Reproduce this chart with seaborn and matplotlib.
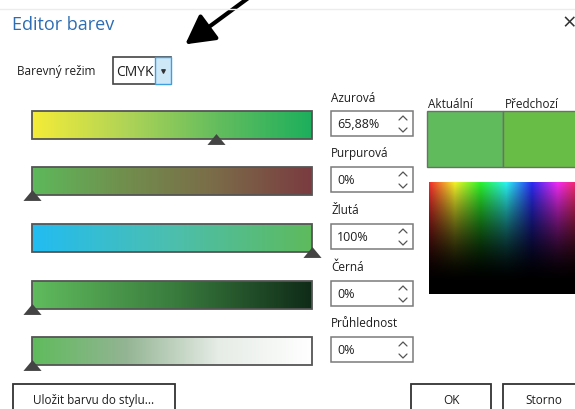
import numpy as np
import matplotlib
matplotlib.use("Agg")
import matplotlib.pyplot as plt
from matplotlib.patches import Rectangle, FancyArrowPatch
from matplotlib.colors import hsv_to_rgb
import seaborn as sns

# dialog content
title = "Editor barev"
mode_label = "Barevný režim"
mode_value = "CMYK"
channels = ["Azurová", "Purpurová", "Žlutá", "Černá", "Průhlednost"]
values = [65.88, 0, 100, 0, 0]
value_labels = ["65,88%", "0%", "100%", "0%", "0%"]
gradients = [
    ["#f5ec38", "#b0d456", "#63bd5e", "#1daf5c"],
    ["#5db95b", "#718e4d", "#7b6a48", "#7a3b40"],
    ["#22bcf2", "#4cbfae", "#5eba5c"],
    ["#60bb5d", "#3a7d3e", "#0f2b18"],
    ["#5fbb5c", "#93b493", "#e6ece6", "#ffffff"],
]
preview_labels = ["Aktuální", "Předchozí"]
preview_colors = ["#60bb5c", "#68bd46"]
buttons = ["Uložit barvu do stylu...", "OK", "Storno"]

sns.set_theme(style="white")
plt.rcParams["font.family"] = ["Open Sans", "DejaVu Sans"]

fig = plt.figure(figsize=(5.75, 4.10), dpi=100)
ax = fig.add_axes([0, 0, 1, 1])
ax.set_xlim(0, 575)
ax.set_ylim(410, 0)
ax.axis("off")

txt = "#1e1e1e"
# header
ax.plot([0, 575], [10, 10], color="#ececec", lw=1)
ax.text(12, 25, title, fontsize=13, color="#2d6db3", va="center")
ax.text(569, 24, "×", fontsize=17, color="#333333", va="center", ha="center")
ax.add_patch(FancyArrowPatch((251, -3), (183, 47), arrowstyle="-|>,head_length=11,head_width=6",
                             lw=3, color="black", mutation_scale=1.6))

# mode combobox
ax.text(17, 72, mode_label, fontsize=8.5, color=txt, va="center")
ax.add_patch(Rectangle((113, 58), 58, 27, fc="white", ec="#444444", lw=1.2))
ax.add_patch(Rectangle((155, 58), 16, 27, fc="#cfe8f8", ec="#3d9ee0", lw=1))
ax.text(116, 72, mode_value, fontsize=10, color=txt, va="center")
ax.scatter([163], [72], marker="v", s=6, color="#333333")

# sliders and spin boxes
x0, x1 = 32, 312
tops = [112, 168, 225, 282, 338]
bar_h = 28
for i, name in enumerate(channels):
    top = tops[i]
    cmap = sns.blend_palette(gradients[i], n_colors=256, as_cmap=True)
    ax.imshow(np.linspace(0, 1, 256)[None, :], cmap=cmap, aspect="auto",
              extent=(x0, x1, top + bar_h, top), zorder=1)
    ax.add_patch(Rectangle((x0, top), x1 - x0, bar_h, fill=False, ec="#555555", lw=1.3, zorder=2))
    mx = x0 + values[i] / 100 * (x1 - x0)
    ax.scatter([mx], [top + bar_h], marker=[(-1, -0.6), (1, -0.6), (0, 0.6)], s=170,
               color="#444444", zorder=3, linewidths=0)
    # label + spin box
    ax.text(331, top - 14, name, fontsize=8.5, color=txt, va="center")
    ax.add_patch(Rectangle((331, top), 82, 25, fc="white", ec="#7a7a7a", lw=1.1))
    ax.text(337, top + 13, value_labels[i], fontsize=9, color=txt, va="center")
    cx = 403
    ax.plot([cx - 4, cx, cx + 4], [top + 9, top + 5, top + 9], color="#555555", lw=0.9)
    ax.plot([cx - 4, cx, cx + 4], [top + 17, top + 21, top + 17], color="#555555", lw=0.9)

# preview swatches
ax.text(428, 104, preview_labels[0], fontsize=8.5, color=txt, va="center")
ax.text(505, 104, preview_labels[1], fontsize=8.5, color=txt, va="center")
ax.add_patch(Rectangle((427, 112), 76, 56, fc=preview_colors[0], ec="#6e6e6e", lw=1))
ax.add_patch(Rectangle((503, 112), 80, 56, fc=preview_colors[1], ec="#6e6e6e", lw=1))

# colour spectrum
h = np.linspace(0, 0.95, 300)[None, :]
v = np.clip(1 - np.linspace(0, 1, 200) * 1.1, 0, 1)[:, None] ** 1.7
hsv = np.dstack([np.repeat(h, 200, 0), np.full((200, 300), 0.82), np.repeat(v * 0.95, 300, 1)])
ax.imshow(hsv_to_rgb(hsv), aspect="auto", extent=(429, 576, 295, 183), zorder=1)

# buttons
bx = [(13, 162), (411, 80), (503, 82)]
for (left, w), lab in zip(bx, buttons):
    ax.add_patch(Rectangle((left, 385), w, 30, fc="white", ec="#333333", lw=1.3))
    ax.text(left + w / 2, 401, lab, fontsize=8.5, color=txt, va="center", ha="center")

fig.savefig("out.png", dpi=100, facecolor="white")
